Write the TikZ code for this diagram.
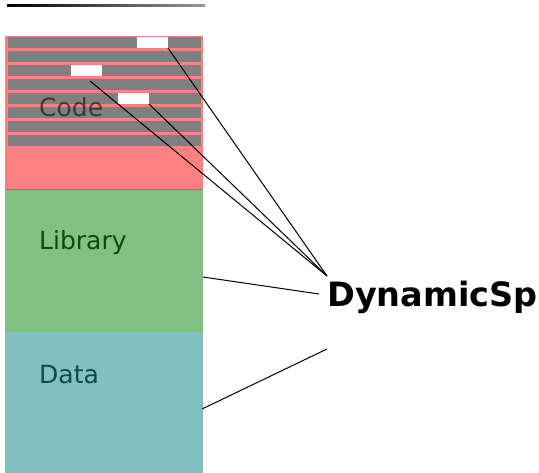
\documentclass[tikz,border=0pt]{standalone}
\usepackage{fontspec}
\setmainfont{DejaVu Sans}
\usetikzlibrary{positioning}
\definecolor{codecol}{HTML}{FF8080}
\definecolor{libcol}{HTML}{80C080}
\definecolor{datacol}{HTML}{80C0C0}
\definecolor{barcol}{HTML}{808080}
\definecolor{libtext}{HTML}{0B4B0B}
\definecolor{datatext}{HTML}{0B4B4B}

\begin{document}
\begin{tikzpicture}[x=1pt,y=-1pt,
    seg/.style={inner sep=0,outer sep=0,minimum width=198pt,anchor=north west},
    bar/.style={fill=barcol,inner sep=0,outer sep=0,minimum width=193pt,minimum height=11pt,anchor=north west},
    hole/.style={fill=white,inner sep=0,outer sep=0,minimum width=31pt,minimum height=11pt,anchor=north west},
    lbl/.style={anchor=base west,inner sep=0,font=\fontsize{25}{30}\selectfont},
    link/.style={draw=black,line width=1pt}]
  \useasboundingbox (0,0) rectangle (539,473);
  \clip (0,0) rectangle (539,473);

  % top rule
  \shade[left color=black,right color=black!40] (7,4.3) rectangle (205,6.3);

  % memory segments
  \node[seg,fill=codecol,minimum height=153pt] (code) at (5,36) {};
  \node[seg,fill=libcol,minimum height=143pt] (lib) at (5,189) {};
  \node[seg,fill=datacol,minimum height=141pt] (data) at (5,332) {};
  \draw[libcol!75!black,line width=.6pt] (lib.north west) -- (lib.north east);

  % code lines
  \foreach \i in {0,...,7}
    \node[bar] (bar\i) at (8,{37+14*\i}) {};
  \node[hole] (hole0) at (137,37) {};
  \node[hole] (hole2) at (71,65) {};
  \node[hole] (hole4) at (118,93) {};

  \node[lbl,text=black,text opacity=.55] (codelbl) at (39,117) {Code};
  \node[lbl,text=libtext] (liblbl) at (39,250) {Library};
  \node[lbl,text=datatext] (datalbl) at (39,384) {Data};

  \node[anchor=base west,inner sep=0,font=\bfseries\fontsize{33.5}{40}\selectfont] (dyn) at (327,307) {DynamicSp};

  \coordinate (hub) at (327,276);
  \coordinate (callsrc) at (90,81);
  \coordinate (libsrc) at (203,277);
  \coordinate (libend) at (319,294);
  \coordinate (datasrc) at (202,409);
  \coordinate (dataend) at (327,349);

  \draw[link] (hole0.south east) -- (hub);
  \draw[link] (callsrc) -- (hub);
  \draw[link] (hole4.south east) -- (hub);
  \draw[link] (libsrc) -- (libend);
  \draw[link] (datasrc) -- (dataend);
\end{tikzpicture}
\end{document}
